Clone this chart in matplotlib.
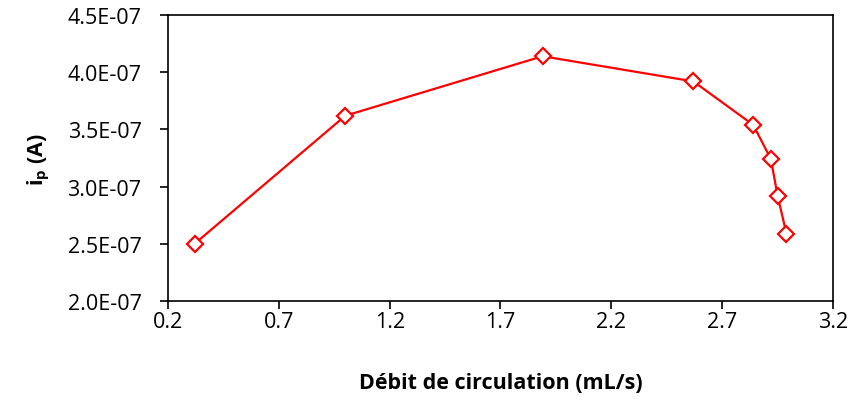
import matplotlib as mpl
mpl.use('Agg')
import matplotlib.pyplot as plt
from matplotlib.ticker import FuncFormatter

# flow rate (mL/s) and peak current (A)
flow = [0.32, 1.00, 1.89, 2.57, 2.84, 2.92, 2.95, 2.99]
ip = [2.50e-07, 3.62e-07, 4.14e-07, 3.92e-07, 3.54e-07, 3.24e-07, 2.92e-07, 2.59e-07]

xticks = [0.2, 0.7, 1.2, 1.7, 2.2, 2.7, 3.2]
yticks = [2.0e-07, 2.5e-07, 3.0e-07, 3.5e-07, 4.0e-07, 4.5e-07]

mpl.rcParams.update({'font.family': 'Open Sans', 'font.size': 15.5,
                     'mathtext.fontset': 'custom',
                     'mathtext.rm': 'Open Sans',
                     'mathtext.bf': 'Open Sans:bold'})

fig = plt.figure(figsize=(8.54, 4.02), dpi=100)
ax = fig.add_axes([0.1967, 0.2488, 0.9754 - 0.1967, 0.960 - 0.2488])

ax.plot(flow, ip, color='#ff0000', lw=1.6, marker='D', ms=8.5,
        mfc='white', mec='#ff0000', mew=1.6, clip_on=False)

ax.set_xlim(0.2, 3.2)
ax.set_ylim(2.0e-07, 4.5e-07)
ax.set_xticks(xticks)
ax.set_yticks(yticks)
ax.xaxis.set_major_formatter(FuncFormatter(lambda v, p: "%.1f" % v))

def sci(v, p):
    m, e = ("%.1E" % v).split("E")
    return "%sE%s%02d" % (m, "-" if int(e) < 0 else "+", abs(int(e)))
ax.yaxis.set_major_formatter(FuncFormatter(sci))

for s in ax.spines.values():
    s.set_linewidth(1.2)
ax.tick_params(direction='out', length=6, width=1.2)
ax.tick_params(axis='x', pad=1)
ax.tick_params(axis='y', pad=13)

ax.set_xlabel("Débit de circulation (mL/s)", fontweight='bold', labelpad=29)
ax.set_ylabel(r"$\mathbf{i_p}$ (A)", fontweight='bold', labelpad=11)

plt.savefig("out.png", dpi=100)
